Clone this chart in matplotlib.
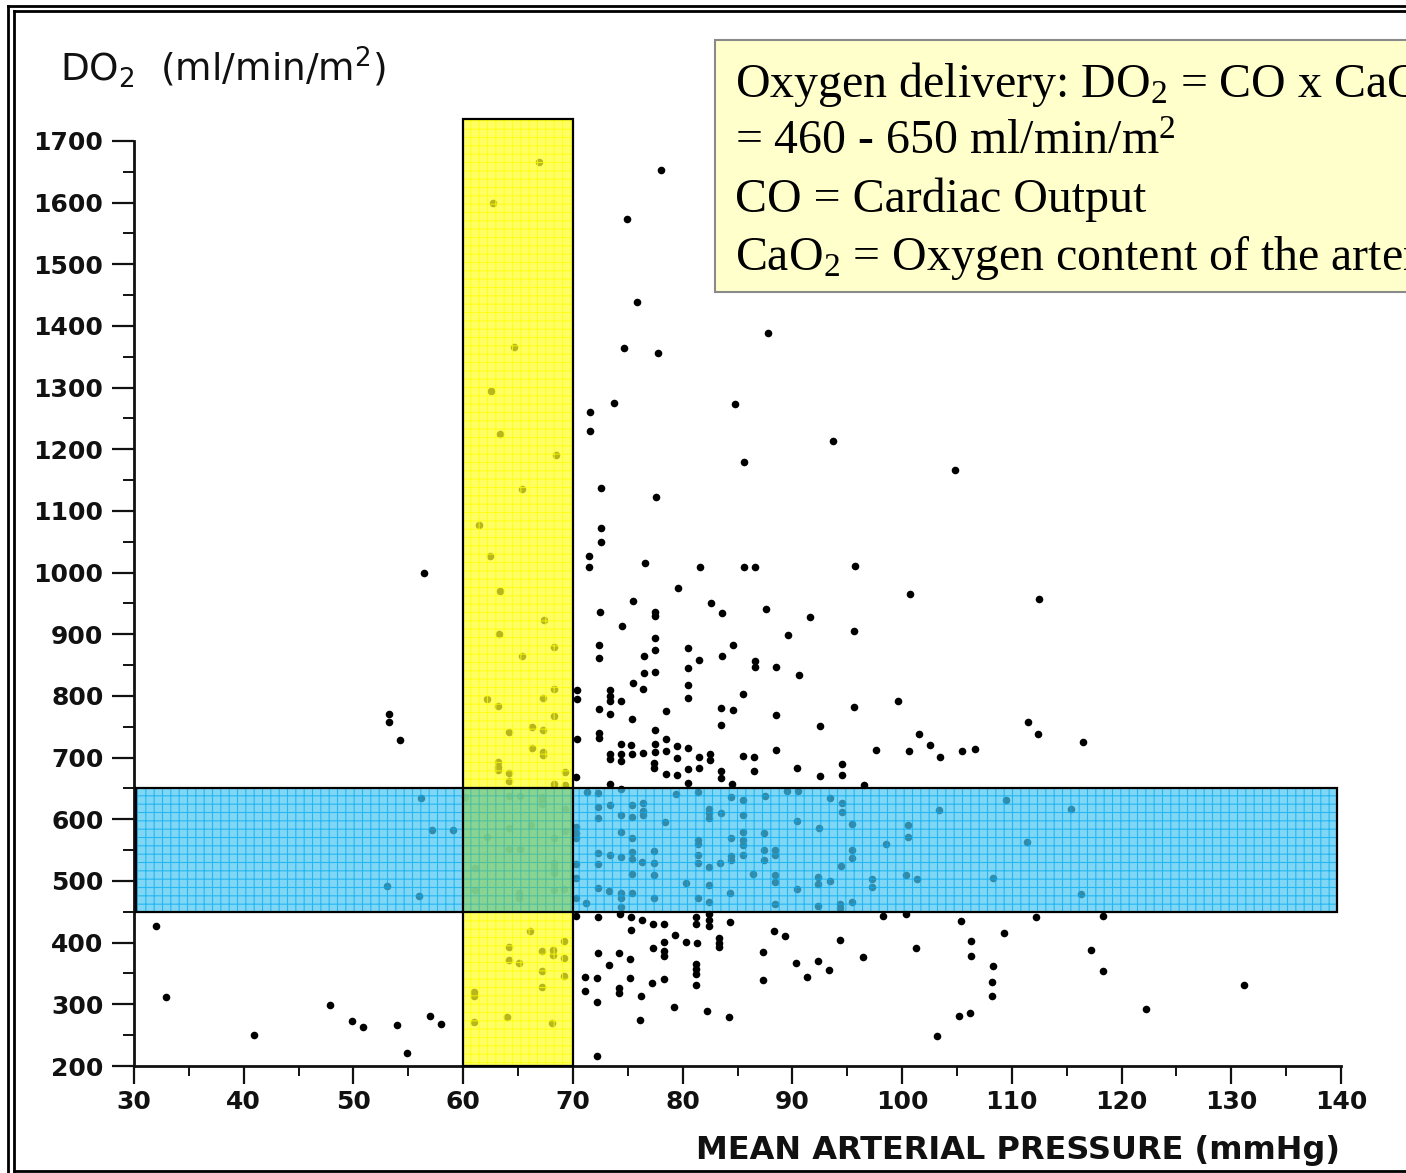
import matplotlib
matplotlib.use("Agg")
import matplotlib.pyplot as plt
from matplotlib.patches import Rectangle
from matplotlib.lines import Line2D
from matplotlib.ticker import MultipleLocator

# Patient observations: (mean arterial pressure mmHg, DO2 ml/min/m2)
obs_high_do2 = [
    (66.9, 1666), (78.0, 1653), (62.7, 1599), (74.9, 1573), (75.8, 1439), (64.6, 1366),
    (74.7, 1364), (77.8, 1356), (87.8, 1389), (62.5, 1295), (73.7, 1275), (84.8, 1274),
    (71.6, 1261), (71.6, 1230), (63.4, 1225), (93.7, 1214), (68.5, 1191), (85.6, 1179),
    (104.8, 1166), (65.4, 1136), (72.6, 1137), (77.6, 1123), (61.4, 1077), (72.6, 1072),
    (72.6, 1050), (62.4, 1027), (71.5, 1027), (71.5, 1009), (76.6, 1016), (81.6, 1009),
    (85.6, 1009), (86.6, 1009), (95.7, 1011), (56.4, 999), (79.6, 975), (63.4, 970),
    (100.7, 965), (112.5, 957), (75.5, 954), (82.6, 951), (72.5, 936), (83.6, 935),
    (87.6, 941), (77.5, 936), (77.5, 930), (67.4, 923), (74.5, 914), (91.6, 928),
    (63.3, 901), (89.6, 899), (95.6, 905), (68.3, 879), (72.4, 883), (72.4, 862),
    (77.5, 894), (77.5, 875), (80.5, 878), (84.6, 883), (65.4, 865), (76.5, 865),
    (81.5, 858), (83.6, 865), (86.6, 857), (86.6, 847), (88.5, 847), (90.6, 834),
    (76.5, 837), (77.5, 839), (80.5, 846), (75.5, 821), (76.4, 811), (80.5, 818),
    (68.3, 811), (67.3, 797), (62.2, 795), (70.4, 810), (70.4, 795), (73.4, 810),
    (73.4, 800), (73.4, 792), (74.4, 792), (80.5, 797), (85.5, 803), (63.2, 784),
    (72.4, 779), (73.4, 771), (75.4, 763), (78.5, 776), (83.5, 781), (84.6, 777),
    (88.5, 769), (95.6, 782), (99.6, 792), (111.5, 758), (112.4, 738), (116.5, 725),
    (53.2, 771), (53.2, 758), (54.2, 729), (68.3, 768), (64.2, 742), (66.3, 750),
    (67.3, 745), (66.3, 716), (67.3, 709), (67.3, 704), (63.2, 693), (63.2, 685),
    (63.2, 680), (64.2, 675), (64.2, 662), (69.3, 677), (68.3, 657), (69.3, 656),
    (70.4, 730), (72.4, 740), (72.4, 732), (77.5, 745), (83.5, 753), (92.5, 751),
    (74.4, 722), (75.3, 721), (77.5, 722), (78.5, 730), (79.5, 719), (80.5, 716),
    (73.4, 706), (73.4, 698), (74.4, 706), (74.4, 695), (75.4, 706), (76.4, 708),
    (77.5, 709), (78.5, 711), (79.5, 699), (81.5, 701), (82.5, 706), (82.5, 696),
    (85.5, 703), (86.5, 701), (88.5, 712), (97.6, 712), (100.6, 711), (102.5, 721),
    (103.5, 701), (105.5, 711), (106.6, 714), (101.5, 738), (77.4, 691), (77.4, 683),
    (78.5, 674), (79.5, 672), (80.5, 682), (81.5, 683), (83.5, 678), (83.5, 667),
    (86.5, 678), (90.4, 683), (92.5, 670), (94.5, 690), (94.5, 672), (70.3, 669),
    (73.4, 657), (74.4, 649), (80.5, 659), (84.5, 657), (96.5, 656),
]

obs_normal_do2 = [
    (56.2, 635), (57.2, 583), (59.1, 583), (53.1, 492), (56.0, 476), (60.2, 636),
    (64.2, 638), (65.2, 638), (67.2, 636), (67.2, 630), (67.2, 625), (69.3, 617),
    (64.2, 586), (66.2, 591), (69.3, 581), (62.2, 571), (68.3, 570), (64.2, 552),
    (65.2, 552), (61.1, 521), (68.3, 529), (68.3, 521), (68.3, 513), (61.1, 485),
    (68.3, 485), (69.2, 487), (65.1, 481), (65.1, 472), (70.3, 588), (70.3, 578),
    (70.3, 570), (71.3, 644), (72.3, 643), (72.3, 620), (72.3, 602), (72.3, 545),
    (72.3, 528), (70.3, 528), (70.3, 505), (72.3, 489), (70.3, 472), (71.2, 464),
    (79.4, 641), (81.4, 644), (84.4, 636), (85.5, 631), (87.5, 638), (89.5, 646),
    (90.5, 646), (93.4, 635), (94.5, 626), (109.5, 631), (73.4, 623), (75.4, 623),
    (76.4, 626), (76.4, 614), (76.4, 607), (82.4, 617), (82.4, 610), (83.5, 610),
    (85.5, 607), (94.5, 612), (103.4, 615), (74.4, 607), (75.4, 604), (82.4, 602),
    (78.4, 596), (90.4, 597), (92.4, 586), (95.4, 592), (100.5, 591), (100.5, 571),
    (74.4, 579), (75.4, 570), (81.4, 566), (81.4, 560), (84.4, 570), (85.5, 579),
    (85.5, 566), (85.5, 558), (87.4, 578), (98.5, 560), (111.4, 563), (73.4, 542),
    (74.4, 539), (75.4, 547), (75.4, 536), (77.4, 549), (81.4, 542), (84.4, 541),
    (84.4, 534), (85.5, 542), (87.4, 550), (88.4, 550), (88.4, 542), (95.4, 550),
    (95.4, 537), (76.3, 531), (77.4, 529), (81.4, 529), (82.4, 523), (83.4, 529),
    (87.4, 534), (94.4, 524), (75.4, 511), (77.4, 510), (86.4, 511), (88.4, 510),
    (88.4, 498), (80.3, 497), (82.4, 493), (92.3, 506), (92.3, 495), (93.4, 500),
    (97.3, 503), (97.3, 490), (100.4, 510), (101.4, 503), (108.3, 505), (73.3, 484),
    (74.4, 481), (74.4, 472), (75.4, 481), (77.4, 472), (81.4, 472), (82.4, 466),
    (84.3, 481), (90.4, 487), (88.4, 463), (92.3, 459), (94.3, 463), (94.3, 456),
    (95.4, 466), (74.4, 458), (115.4, 617), (116.3, 479),
]

obs_low_do2 = [
    (70.3, 443), (72.3, 442), (74.3, 446), (75.3, 442), (76.3, 437), (77.3, 430),
    (78.3, 430), (81.2, 442), (81.2, 430), (82.4, 446), (82.4, 437), (82.4, 427),
    (84.3, 434), (75.3, 421), (79.3, 412), (80.3, 401), (81.3, 399), (78.3, 401),
    (77.3, 391), (78.3, 386), (78.3, 378), (83.3, 408), (83.3, 399), (83.3, 393),
    (88.3, 419), (89.3, 411), (94.3, 404), (98.3, 443), (100.4, 446), (105.4, 435),
    (106.3, 403), (109.3, 416), (112.2, 442), (101.3, 391), (106.3, 378), (108.3, 362),
    (108.2, 336), (108.2, 314), (96.4, 377), (87.3, 385), (72.3, 383), (74.2, 383),
    (75.2, 374), (73.3, 364), (90.3, 367), (92.3, 370), (93.3, 356), (81.2, 365),
    (81.2, 357), (81.2, 349), (71.1, 344), (72.2, 343), (75.2, 343), (77.2, 335),
    (78.3, 341), (81.2, 331), (87.3, 339), (91.3, 344), (71.1, 322), (74.2, 326),
    (74.2, 318), (76.2, 314), (72.2, 304), (79.2, 296), (82.2, 289), (84.2, 279),
    (76.1, 275), (105.2, 281), (106.2, 286), (103.2, 249), (72.2, 216), (118.3, 443),
    (117.2, 388), (118.3, 354), (131.2, 331), (122.2, 292), (66.1, 419), (69.2, 403),
    (64.2, 393), (67.2, 386), (68.2, 388), (68.2, 380), (64.2, 372), (65.1, 367),
    (69.2, 375), (67.2, 354), (69.2, 346), (67.2, 328), (61.0, 320), (61.0, 314),
    (64.0, 279), (61.0, 271), (68.1, 270), (32.0, 427), (32.9, 312), (47.9, 299),
    (40.9, 250), (49.9, 273), (50.9, 263), (54.0, 266), (57.0, 281), (58.0, 268),
    (54.9, 221),
]

# Highlighted ranges
map_target = (60, 70)          # MAP target range, mmHg
do2_normal = (450, 650)        # normal DO2 range, ml/min/m2
map_band_top = 1735
do2_band_left = 30.2
do2_band_right = 139.6

x_ticks = list(range(30, 141, 10))
y_ticks = list(range(200, 1701, 100))

note_lines = [
    r"Oxygen delivery: DO$_2$ = CO x CaO$_2$",
    r"= 460 - 650 ml/min/m$^2$",
    "CO = Cardiac Output",
    r"CaO$_2$ = Oxygen content of the arterial blood",
]

plt.rcParams["mathtext.default"] = "regular"
plt.rcParams["hatch.linewidth"] = 0.8

W, H = 1406, 1173
fig = plt.figure(figsize=(W / 100, H / 100), dpi=100)
fig.patch.set_facecolor("white")

def fx(px):
    return px / W

def fy(py):
    return 1 - py / H

ax = fig.add_axes([fx(134), fy(1066), (1341 - 134) / W, (1066 - 141) / H])
ax.set_xlim(30, 140)
ax.set_ylim(200, 1700)

all_obs = obs_high_do2 + obs_normal_do2 + obs_low_do2
xs = [p[0] for p in all_obs]
ys = [p[1] for p in all_obs]
ax.scatter(xs, ys, s=30, c="black", linewidths=0, zorder=2, clip_on=False)

def band(x0, x1, y0, y1, face, grid, alpha, z):
    ax.add_patch(Rectangle((x0, y0), x1 - x0, y1 - y0, facecolor=face,
                           edgecolor=grid, hatch="++", linewidth=0,
                           alpha=alpha, zorder=z, clip_on=False))

def outline(x0, x1, y0, y1, z):
    ax.add_patch(Rectangle((x0, y0), x1 - x0, y1 - y0, fill=False,
                           edgecolor="black", linewidth=1.6,
                           zorder=z, clip_on=False))

band(map_target[0], map_target[1], 200, map_band_top,
     (1.0, 1.0, 0.16), (1.0, 1.0, 0.0), 0.72, 3)
band(do2_band_left, do2_band_right, do2_normal[0], do2_normal[1],
     (0.29, 0.78, 0.95), (0.0, 0.66, 0.94), 0.70, 4)
# where the two ranges cross, the colours mix to green
ax.add_patch(Rectangle((map_target[0], do2_normal[0]),
                       map_target[1] - map_target[0],
                       do2_normal[1] - do2_normal[0],
                       facecolor=(0.60, 0.82, 0.25), edgecolor="none",
                       alpha=0.38, zorder=4.5))
outline(map_target[0], map_target[1], 200, map_band_top, 5)
outline(do2_band_left, do2_band_right, do2_normal[0], do2_normal[1], 5)

for side in ("top", "right"):
    ax.spines[side].set_visible(False)
for side in ("left", "bottom"):
    ax.spines[side].set_linewidth(2.0)
    ax.spines[side].set_color("#111111")

ax.set_xticks(x_ticks)
ax.set_yticks(y_ticks)
ax.xaxis.set_minor_locator(MultipleLocator(5))
ax.yaxis.set_minor_locator(MultipleLocator(50))
ax.tick_params(axis="x", which="major", direction="out", length=13, width=1.6,
               pad=4, labelsize=18, color="#111111")
ax.tick_params(axis="x", which="minor", direction="out", length=7, width=1.4,
               color="#111111")
ax.tick_params(axis="y", which="major", direction="out", length=16, width=1.6,
               pad=6, labelsize=18, color="#111111")
ax.tick_params(axis="y", which="minor", direction="out", length=8, width=1.4,
               color="#111111")
for lab in ax.get_xticklabels() + ax.get_yticklabels():
    lab.set_fontweight("bold")
    lab.set_color("#111111")

# Axis titles
fig.text(fx(60), fy(81), r"DO$_2$  (ml/min/m$^2$)", fontsize=27,
         family="DejaVu Sans", color="#111111", va="baseline", ha="left")
fig.text(fx(1340), fy(1159), "MEAN ARTERIAL PRESSURE (mmHg)", fontsize=23,
         family="DejaVu Sans", fontweight="bold", color="#111111",
         va="baseline", ha="right")

# Formula note
fig.patches.append(Rectangle((fx(715), fy(292)), 1.0, (292 - 40) / H,
                             transform=fig.transFigure, facecolor="#FFFFCC",
                             edgecolor="#8a8a8a", linewidth=1.5, zorder=5))
baselines = [97, 154, 212, 270]
for line, b in zip(note_lines, baselines):
    fig.text(fx(735), fy(b), line, fontsize=34.5, family="Liberation Serif",
             color="black", va="baseline", ha="left", zorder=6)

# Double frame
frame = [
    ((8, 8), (6, 1173)), ((8, W), (6, 6)),
    ((14, 14), (11, 1171)), ((14, W), (11, 11)), ((14, W), (1171, 1171)),
]
for (xa, xb), (ya, yb) in frame:
    fig.add_artist(Line2D([fx(xa), fx(xb)], [fy(ya), fy(yb)],
                          transform=fig.transFigure, color="black",
                          linewidth=2.0, solid_capstyle="projecting"))

fig.savefig("out.png", dpi=100)
